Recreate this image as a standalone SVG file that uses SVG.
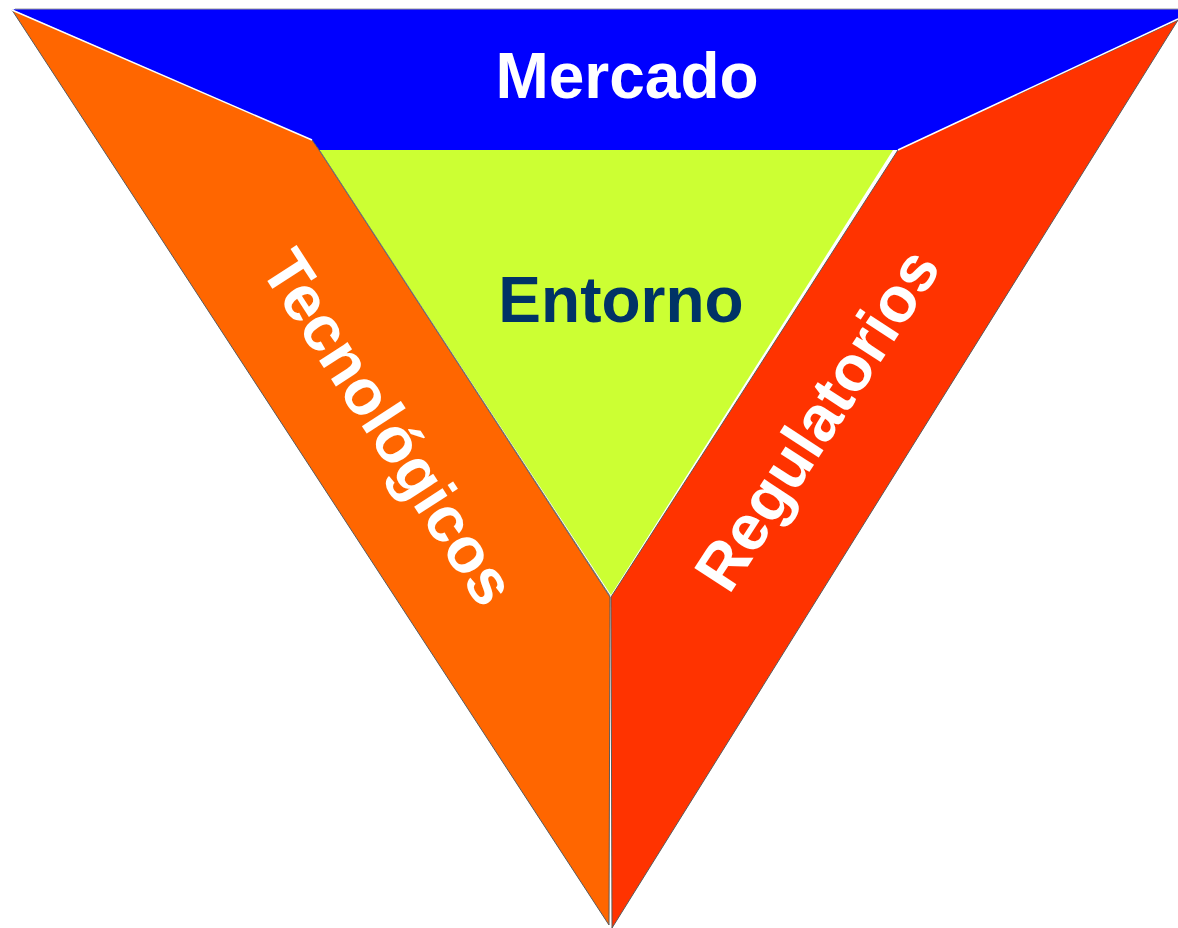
<svg xmlns="http://www.w3.org/2000/svg" width="1178" height="928" viewBox="0 0 1178 928">
<style>
.lbl{font-family:"Liberation Sans",Arial,sans-serif;font-weight:bold;font-size:64px;text-anchor:middle}
.w{fill:#ffffff}
.edge{stroke:#5a5a5a;stroke-width:1;stroke-linejoin:round}
</style>
<rect width="1178" height="928" fill="#ffffff"/>
<g id="mercado">
<polygon points="15,9 1178,9 1178,19 898,150 319,150 312,140 13,10" fill="#0000ff"/>
<line x1="15" y1="9" x2="1178" y2="9" stroke="#9a9a9a" stroke-width="1"/>
<text class="lbl w" x="627" y="98">Mercado</text>
</g>
<g id="entorno">
<polygon points="319,150 893,150 611,595" fill="#ccff33"/>
<text class="lbl" x="621" y="322" fill="#003366">Entorno</text>
</g>
<g id="tecnologicos">
<polygon class="edge" points="12,10 312,140 319,150 610,597 609,925" fill="#ff6600"/>
<text class="lbl w" transform="translate(388,428) rotate(57)" x="0" y="21" font-size="65">Tecnológicos</text>
</g>
<g id="regulatorios">
<polygon class="edge" points="1178,20 898,150 611,597 612,928" fill="#ff3300"/>
<text class="lbl w" transform="translate(818,420) rotate(-57)" x="0" y="21" font-size="65">Regulatorios</text>
</g>
<g id="connectors">
<line x1="12" y1="10" x2="312" y2="140" stroke="#ffffff" stroke-width="1.5"/>
<line x1="1178" y1="19" x2="898" y2="150" stroke="#ffffff" stroke-width="1.5"/>
<line x1="320" y1="151" x2="610" y2="596" stroke="#7a7a7a" stroke-width="1"/>
</g>
</svg>
